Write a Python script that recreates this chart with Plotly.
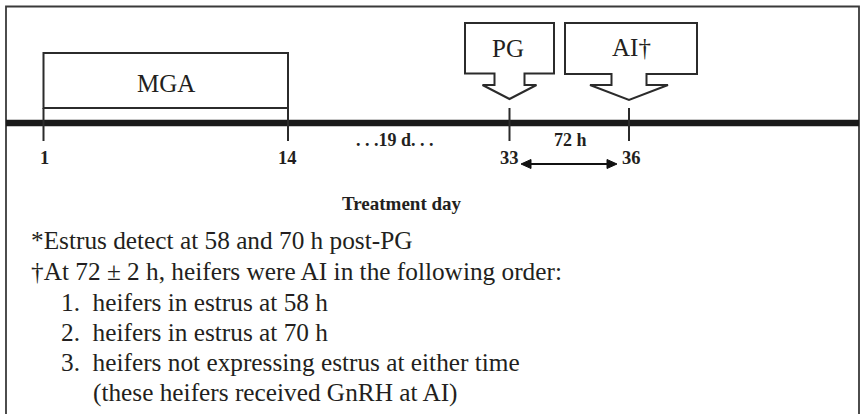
import plotly.graph_objects as go

# ---- content ----
tick_labels = ["1", "14", "33", "36"]
box_labels = ["MGA", "PG", "AI†"]
gap_labels = [". . .19 d. . .", "72 h"]
axis_title = "Treatment day"
footnotes = [
    "*Estrus detect at 58 and 70 h post-PG",
    "†At 72 ± 2 h, heifers were AI in the following order:",
    "1.  heifers in estrus at 58 h",
    "2.  heifers in estrus at 70 h",
    "3.  heifers not expressing estrus at either time",
    "(these heifers received GnRH at AI)",
]

# ---- layout constants (pixel space) ----
W, H = 865, 414
INK = "#231f20"
LINE = "#2b2b2b"
SERIF = "Liberation Serif, Times New Roman, serif"
tick_x = [43.5, 288, 509.5, 629]
timeline_y = 123

shapes = []
# outer frame
shapes.append(dict(type="rect", x0=6, y0=6.5, x1=859, y1=430,
                   line=dict(color="#3a3a3a", width=1.8), fillcolor="rgba(0,0,0,0)"))
# MGA box
shapes.append(dict(type="rect", x0=tick_x[0], y0=53, x1=tick_x[1], y1=108,
                   line=dict(color=LINE, width=2), fillcolor="white"))
# timeline
shapes.append(dict(type="line", x0=6, y0=timeline_y, x1=859, y1=timeline_y,
                   line=dict(color="#1a1a1a", width=6.5)))
# ticks
for tx in tick_x:
    shapes.append(dict(type="line", x0=tx, y0=108, x1=tx, y1=141,
                       line=dict(color=LINE, width=2)))


def callout(x0, x1, y0, y1, cx, stem_hw, wing_hw, wing_y, tip_y):
    p = (f"M {x0} {y0} L {x1} {y0} L {x1} {y1} L {cx+stem_hw} {y1} "
         f"L {cx+stem_hw} {wing_y} L {cx+wing_hw} {wing_y} L {cx} {tip_y} "
         f"L {cx-wing_hw} {wing_y} L {cx-stem_hw} {wing_y} L {cx-stem_hw} {y1} "
         f"L {x0} {y1} Z")
    return dict(type="path", path=p, line=dict(color=LINE, width=2), fillcolor="white")


shapes.append(callout(465, 554, 23, 73.5, tick_x[2], 15, 27, 85, 99))
shapes.append(callout(565, 697, 23, 74, tick_x[3], 17.5, 39, 85, 100))

# double arrow 72 h
ay = 164
shapes.append(dict(type="line", x0=529, y0=ay, x1=609, y1=ay,
                   line=dict(color="#111", width=2)))
shapes.append(dict(type="path", path=f"M 521 {ay} L 531 {ay-4.5} L 531 {ay+4.5} Z",
                   fillcolor="#111", line=dict(color="#111", width=1)))
shapes.append(dict(type="path", path=f"M 617 {ay} L 607 {ay-4.5} L 607 {ay+4.5} Z",
                   fillcolor="#111", line=dict(color="#111", width=1)))

ann = []
# box labels
for lab, (x, y) in zip(box_labels, [(166, 83), (508, 48), (631, 47)]):
    ann.append(dict(x=x, y=y, text=lab, showarrow=False,
                    font=dict(family=SERIF, size=25, color=INK)))
# tick labels
for lab, x in zip(tick_labels, [44, 287, 509, 631]):
    ann.append(dict(x=x, y=158, text=f"<b>{lab}</b>", showarrow=False,
                    font=dict(family=SERIF, size=18.5, color=INK)))
# gap labels
for lab, x in zip(gap_labels, [395, 570]):
    ann.append(dict(x=x, y=140, text=f"<b>{lab}</b>", showarrow=False,
                    font=dict(family=SERIF, size=18, color=INK)))
ann.append(dict(x=402, y=203, text=f"<b>{axis_title}</b>", showarrow=False,
                font=dict(family=SERIF, size=19, color=INK)))
# footnotes
fx = [29, 29, 59, 59, 59, 91]
fy = [240, 271, 302, 332, 362, 392]
for lab, x, y in zip(footnotes, fx, fy):
    ann.append(dict(x=x, y=y, text=lab, showarrow=False, xanchor="left",
                    font=dict(family=SERIF, size=25.3, color=INK)))

fig = go.Figure()
fig.add_trace(go.Scatter(x=[0, W], y=[0, H], mode="markers",
                         marker=dict(opacity=0), hoverinfo="skip", showlegend=False))
fig.update_layout(
    width=W, height=H, margin=dict(l=0, r=0, t=0, b=0),
    paper_bgcolor="white", plot_bgcolor="white",
    xaxis=dict(range=[0, W], visible=False, fixedrange=True),
    yaxis=dict(range=[H, 0], visible=False, fixedrange=True),
    shapes=shapes, annotations=ann, showlegend=False,
)
fig.write_html("out.html", config=dict(displayModeBar=False),
               post_script="document.body.style.margin='0px';document.body.style.overflow='hidden';")
